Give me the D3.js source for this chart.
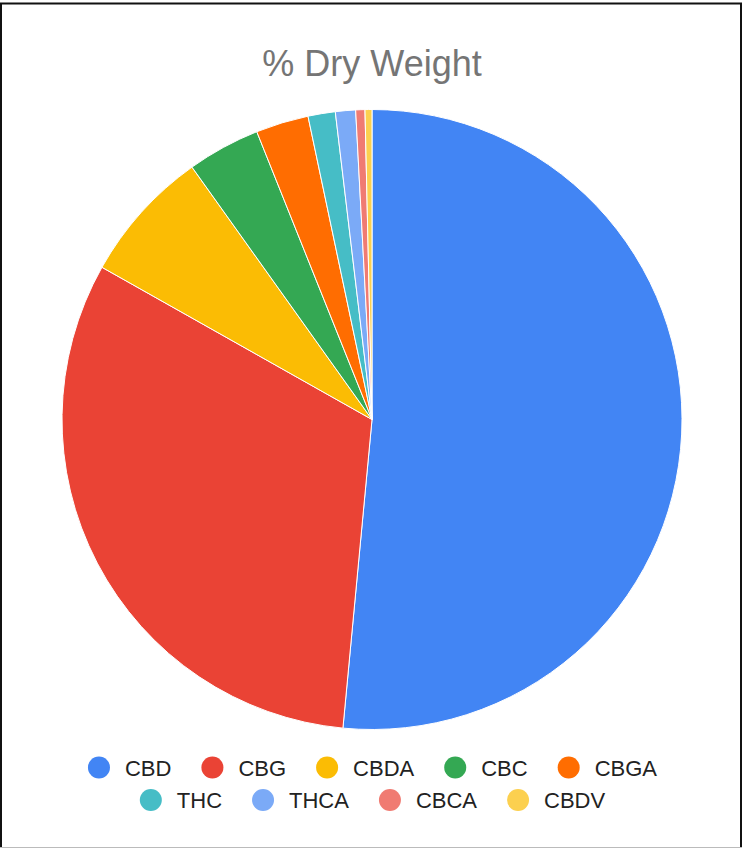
<!DOCTYPE html>
<html>
<head>
<meta charset="utf-8">
<script src="https://cdn.jsdelivr.net/npm/d3@7"></script>
<style>
  html, body { margin: 0; padding: 0; background: #fff; }
  svg { display: block; }
</style>
</head>
<body>
<svg id="chart" width="742" height="848"></svg>
<script>
const categories = ["CBD", "CBG", "CBDA", "CBC", "CBGA", "THC", "THCA", "CBCA", "CBDV"];
const values = [51.49, 31.67, 6.97, 3.80, 2.75, 1.42, 1.05, 0.48, 0.36];
const colors = ["#4285f4", "#ea4335", "#fbbc04", "#34a853", "#ff6d01", "#46bdc6", "#7baaf7", "#f07b72", "#fcd04f"];
const title = "% Dry Weight";
const legendRows = [["CBD", "CBG", "CBDA", "CBC", "CBGA"], ["THC", "THCA", "CBCA", "CBDV"]];

const svg = d3.select("#chart");
const W = 742, H = 848;

// frame
svg.append("rect").attr("x", 0).attr("y", 0).attr("width", W).attr("height", H).attr("fill", "#fff");
svg.append("line").attr("x1", 0).attr("x2", W).attr("y1", 3.5).attr("y2", 3.5).attr("stroke", "#111").attr("stroke-width", 2);
svg.append("line").attr("x1", 1).attr("x2", 1).attr("y1", 3).attr("y2", H).attr("stroke", "#111").attr("stroke-width", 2);
svg.append("line").attr("x1", 741).attr("x2", 741).attr("y1", 3).attr("y2", H).attr("stroke", "#111").attr("stroke-width", 2);
svg.append("line").attr("x1", 0).attr("x2", W).attr("y1", 847.5).attr("y2", 847.5).attr("stroke", "#bbb").attr("stroke-width", 1);

// title
svg.append("text")
  .attr("x", 372).attr("y", 76)
  .attr("text-anchor", "middle")
  .attr("font-family", "Liberation Sans, Arial, sans-serif")
  .attr("font-size", 36)
  .attr("fill", "#757575")
  .text(title);

// pie
const cx = 372, cy = 419.5, r = 310;
const color = d3.scaleOrdinal().domain(categories).range(colors);
const data = categories.map((c, i) => ({ name: c, value: values[i] }));
const pie = d3.pie().value(d => d.value).sort(null);
const arc = d3.arc().innerRadius(0).outerRadius(r);

svg.append("g")
  .attr("transform", `translate(${cx},${cy})`)
  .selectAll("path")
  .data(pie(data))
  .join("path")
  .attr("d", arc)
  .attr("fill", d => color(d.data.name))
  .attr("stroke", "#fff")
  .attr("stroke-width", 1);

// legend
const rowY = [767.5, 800];
const legendCenter = 372.5;
const rad = 11;
const gapCircleText = 26;
const gapItem = 41;
const fontSize = 22;

legendRows.forEach((row, ri) => {
  const g = svg.append("g");
  const tmp = svg.append("g");
  const widths = row.map(name => {
    const t = tmp.append("text").attr("font-family", "Liberation Sans, Arial, sans-serif").attr("font-size", fontSize).text(name);
    return t.node().getComputedTextLength();
  });
  tmp.remove();
  const total = rad + d3.sum(widths, w => gapCircleText + w) + (row.length - 1) * gapItem;
  let x = legendCenter - total / 2 + rad;
  row.forEach((name, i) => {
    g.append("circle").attr("cx", x).attr("cy", rowY[ri]).attr("r", rad).attr("fill", color(name));
    g.append("text")
      .attr("x", x + gapCircleText).attr("y", rowY[ri] + 8.3)
      .attr("font-family", "Liberation Sans, Arial, sans-serif")
      .attr("font-size", fontSize)
      .attr("fill", "#222")
      .text(name);
    x += gapCircleText + widths[i] + gapItem;
  });
});
</script>
</body>
</html>
